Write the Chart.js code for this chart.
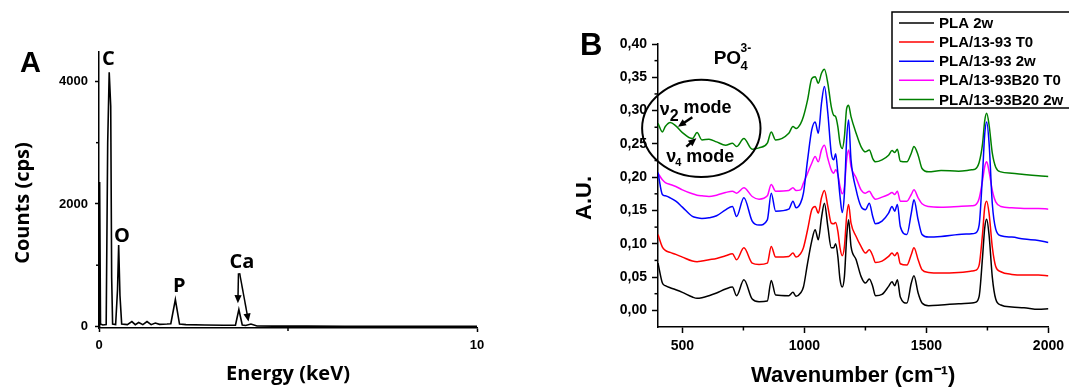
<!DOCTYPE html>
<html>
<head>
<meta charset="utf-8">
<script src="https://cdn.jsdelivr.net/npm/chart.js@4.4.0/dist/chart.umd.min.js"></script>
<style>
  body { margin: 0; background: #fff; }
  #wrap { position: relative; width: 1069px; height: 389px; overflow: hidden; }
  canvas { position: absolute; top: 0; }
  #edx { left: 0; }
  #ftir { left: 540px; }
</style>
</head>
<body>
<div id="wrap">
  <canvas id="edx" width="540" height="389"></canvas>
  <canvas id="ftir" width="529" height="389"></canvas>
</div>
<script>
// ---- panel A : EDX spectrum ----
const energy = [0, 0.017, 0.04, 0.1, 0.19, 0.23, 0.27, 0.31, 0.335, 0.36,
  0.44, 0.49, 0.52, 0.555, 0.6, 0.75, 0.87, 0.96, 1.05, 1.16,
  1.27, 1.38, 1.49, 1.6, 1.8, 1.9, 2.02, 2.13, 2.3, 2.8,
  3.3, 3.61, 3.70, 3.79, 3.88, 4.02, 4.18, 4.6, 5.5, 6.5,
  7.5, 8.5, 10];
const counts = [0, 2360, 40, 25, 30, 3000, 4150, 3600, 800, 40,
  30, 600, 1330, 500, 40, 30, 80, 30, 65, 30,
  80, 30, 55, 35, 40, 45, 440, 40, 30, 25,
  20, 20, 276, 25, 15, 40, 8, 5, 5, 4,
  3, 3, 3];
const edxXTicks = [0, 10];
const edxXMinor = [5];
const edxYTicks = [0, 2000, 4000];
const edxYMinor = [1000, 3000];

// ---- panel B : FTIR spectra ----
const wavenumber = [400, 418, 430, 450, 473, 500, 541, 560, 580, 609,
  640, 677, 705, 722, 752, 786, 814, 848, 864, 882,
  936, 953, 966,
  984, 996, 1013, 1030, 1044, 1057, 1070, 1082, 1096, 1110,
  1120, 1128, 1137, 1146, 1155, 1164, 1173, 1181, 1191, 1212,
  1232, 1250, 1266, 1280, 1291, 1318,
  1345, 1359, 1370, 1381, 1393, 1420, 1438, 1449, 1466, 1482,
  1509, 1560, 1632, 1686,
  1700, 1716, 1730, 1739, 1747, 1757, 1770, 1784, 1805, 1850,
  1900, 1959, 2000];
const pla2w = [0.071, 0.041, 0.037, 0.034, 0.031, 0.027, 0.020, 0.018, 0.019, 0.022,
  0.026, 0.032, 0.035, 0.022, 0.046, 0.017, 0.013, 0.014, 0.045, 0.023,
  0.022, 0.027, 0.021,
  0.026, 0.035, 0.071, 0.104, 0.121, 0.106, 0.139, 0.161, 0.126, 0.094,
  0.094, 0.100, 0.081, 0.046, 0.035, 0.051, 0.109, 0.136, 0.096, 0.076,
  0.051, 0.041, 0.047, 0.036, 0.022, 0.024,
  0.036, 0.043, 0.037, 0.046, 0.020, 0.011, 0.041, 0.052, 0.026, 0.011,
  0.007, 0.008, 0.010, 0.011,
  0.012, 0.021, 0.080, 0.124, 0.137, 0.112, 0.050, 0.017, 0.008, 0.005,
  0.004, 0.0015, 0.0025];
const pla1393T0 = [0.114, 0.095, 0.090, 0.087, 0.084, 0.080, 0.074, 0.073, 0.074, 0.076,
  0.078, 0.082, 0.085, 0.076, 0.094, 0.071, 0.069, 0.071, 0.096, 0.080,
  0.081, 0.086, 0.080,
  0.085, 0.094, 0.121, 0.151, 0.156, 0.146, 0.169, 0.180, 0.156, 0.131,
  0.130, 0.132, 0.119, 0.094, 0.082, 0.096, 0.141, 0.159, 0.131, 0.111,
  0.096, 0.086, 0.091, 0.082, 0.072, 0.074,
  0.081, 0.086, 0.082, 0.087, 0.070, 0.068, 0.084, 0.094, 0.076, 0.061,
  0.057, 0.056, 0.057, 0.059,
  0.060, 0.068, 0.115, 0.155, 0.164, 0.145, 0.095, 0.066, 0.058, 0.054,
  0.053, 0.053, 0.052];
const pla13932w = [0.207, 0.174, 0.172, 0.169, 0.164, 0.155, 0.141, 0.139, 0.138, 0.139,
  0.142, 0.151, 0.156, 0.141, 0.169, 0.134, 0.128, 0.136, 0.176, 0.149,
  0.152, 0.164, 0.154,
  0.161, 0.176, 0.226, 0.271, 0.283, 0.266, 0.311, 0.336, 0.296, 0.236,
  0.226, 0.235, 0.206, 0.171, 0.147, 0.176, 0.256, 0.286, 0.226, 0.181,
  0.156, 0.151, 0.161, 0.141, 0.130, 0.134,
  0.146, 0.156, 0.149, 0.159, 0.126, 0.114, 0.146, 0.166, 0.136, 0.114,
  0.110, 0.111, 0.114, 0.115,
  0.116, 0.128, 0.205, 0.265, 0.283, 0.250, 0.160, 0.122, 0.112, 0.110,
  0.107, 0.105, 0.102];
const pla1393B20T0 = [0.206, 0.196, 0.192, 0.189, 0.186, 0.181, 0.175, 0.173, 0.172, 0.171,
  0.173, 0.177, 0.179, 0.176, 0.184, 0.171, 0.167, 0.172, 0.189, 0.179,
  0.180, 0.184, 0.180,
  0.181, 0.191, 0.206, 0.221, 0.231, 0.223, 0.241, 0.248, 0.228, 0.211,
  0.206, 0.211, 0.204, 0.186, 0.175, 0.186, 0.226, 0.241, 0.216, 0.199,
  0.181, 0.176, 0.179, 0.171, 0.167, 0.170,
  0.174, 0.177, 0.174, 0.179, 0.164, 0.164, 0.174, 0.181, 0.169, 0.160,
  0.156, 0.155, 0.156, 0.157,
  0.158, 0.168, 0.195, 0.216, 0.223, 0.208, 0.180, 0.163, 0.156, 0.154,
  0.153, 0.153, 0.152];
const pla1393B202w = [0.281, 0.268, 0.276, 0.282, 0.277, 0.267, 0.258, 0.267, 0.256, 0.257,
  0.253, 0.248, 0.251, 0.246, 0.258, 0.242, 0.244, 0.251, 0.268, 0.256,
  0.266, 0.276, 0.273,
  0.280, 0.291, 0.316, 0.348, 0.351, 0.341, 0.356, 0.362, 0.341, 0.306,
  0.293, 0.291, 0.276, 0.251, 0.243, 0.261, 0.303, 0.308, 0.291, 0.266,
  0.246, 0.238, 0.241, 0.228, 0.223, 0.226,
  0.233, 0.240, 0.237, 0.242, 0.224, 0.223, 0.236, 0.246, 0.233, 0.213,
  0.208, 0.210, 0.209, 0.211,
  0.212, 0.222, 0.250, 0.285, 0.296, 0.278, 0.236, 0.215, 0.208, 0.206,
  0.204, 0.202, 0.201];
const seriesLabels = ['PLA 2w', 'PLA/13-93 T0', 'PLA/13-93 2w', 'PLA/13-93B20 T0', 'PLA/13-93B20 2w'];
const seriesValues = [pla2w, pla1393T0, pla13932w, pla1393B20T0, pla1393B202w];
const seriesColors = ['#000000', '#ff0000', '#0000ff', '#ff00ff', '#008000'];
const ftirXTicks = [500, 1000, 1500, 2000];
const ftirXMinor = [750, 1250, 1750];
const ftirYTicks = [0, 0.05, 0.10, 0.15, 0.20, 0.25, 0.30, 0.35, 0.40];
const ftirYMinor = [0.025, 0.075, 0.125, 0.175, 0.225, 0.275, 0.325, 0.375];

const SANS = '"Liberation Sans", Arial, sans-serif';
const OPEN = '"Open Sans", sans-serif';

function makeAxis(o) {
  return {
    type: 'linear',
    position: o.position,
    min: o.min,
    max: o.max,
    afterBuildTicks: s => { s.ticks = o.ticks.map(v => ({ value: v })); },
    afterFit: s => { if (o.position === 'left') s.width = o.size; else s.height = o.size; },
    border: { color: '#000', width: 1.5 },
    grid: { drawOnChartArea: false, tickLength: o.tickLength, tickColor: '#000', tickWidth: 1.5 },
    ticks: { color: '#000', font: o.font, padding: o.padding, maxRotation: 0, autoSkip: false, callback: o.format },
    title: o.title ? { display: true, text: o.title, color: '#000', font: o.titleFont, padding: o.titlePadding } : { display: false }
  };
}

function minorTicks(chart, xs, ys, len) {
  const { ctx, scales: { x, y }, chartArea } = chart;
  ctx.strokeStyle = '#000';
  ctx.lineWidth = 1.5;
  ys.forEach(v => {
    const py = y.getPixelForValue(v);
    ctx.beginPath(); ctx.moveTo(chartArea.left - len, py); ctx.lineTo(chartArea.left, py); ctx.stroke();
  });
  xs.forEach(v => {
    const px = x.getPixelForValue(v);
    ctx.beginPath(); ctx.moveTo(px, chartArea.bottom); ctx.lineTo(px, chartArea.bottom + len); ctx.stroke();
  });
}

function arrow(ctx, x1, y1, x2, y2, w, head) {
  const a = Math.atan2(y2 - y1, x2 - x1);
  const c = Math.cos(a), s = Math.sin(a);
  ctx.lineWidth = w;
  ctx.beginPath(); ctx.moveTo(x1, y1); ctx.lineTo(x2 - c * head * 0.8, y2 - s * head * 0.8); ctx.stroke();
  ctx.beginPath();
  ctx.moveTo(x2, y2);
  ctx.lineTo(x2 - head * c + head * 0.45 * s, y2 - head * s - head * 0.45 * c);
  ctx.lineTo(x2 - head * c - head * 0.45 * s, y2 - head * s + head * 0.45 * c);
  ctx.closePath(); ctx.fill();
}

function yTitle(ctx, text, cx, cy, font) {
  ctx.save();
  ctx.translate(cx, cy);
  ctx.rotate(-Math.PI / 2);
  ctx.font = font;
  ctx.textAlign = 'center';
  ctx.textBaseline = 'middle';
  ctx.fillText(text, 0, 0);
  ctx.restore();
}

// annotations of panel A, in data units
const edxLabels = [
  { t: 'C', e: 0.08, c: 4260 },
  { t: 'O', e: 0.40, c: 1379 },
  { t: 'P', e: 1.96, c: 565 },
  { t: 'Ca', e: 3.45, c: 955 }
];
const edxArrows = [
  { e1: 3.69, c1: 869, e2: 3.674, c2: 381 },
  { e1: 3.72, c1: 869, e2: 3.955, c2: 81 }
];

const edxDecor = {
  id: 'edxDecor',
  afterDraw(chart) {
    const { ctx, scales: { x, y } } = chart;
    ctx.save();
    minorTicks(chart, edxXMinor, edxYMinor, 3);
    ctx.fillStyle = '#000';
    ctx.textAlign = 'left';
    ctx.textBaseline = 'alphabetic';
    ctx.font = 'bold 29px ' + SANS;
    ctx.fillText('A', 20, 72);
    ctx.font = 'bold 20px ' + OPEN;
    edxLabels.forEach(l => ctx.fillText(l.t, x.getPixelForValue(l.e), y.getPixelForValue(l.c)));
    ctx.strokeStyle = '#000';
    edxArrows.forEach(a => arrow(ctx, x.getPixelForValue(a.e1), y.getPixelForValue(a.c1),
      x.getPixelForValue(a.e2), y.getPixelForValue(a.c2), 1.5, 8));
    yTitle(ctx, 'Counts (cps)', 23, 203, 'bold 20px ' + OPEN);
    ctx.restore();
  }
};

new Chart('edx', {
  type: 'line',
  data: {
    datasets: [{
      data: energy.map((e, i) => ({ x: e, y: counts[i] })),
      borderColor: '#000',
      borderWidth: 1.6,
      pointRadius: 0,
      tension: 0
    }]
  },
  options: {
    responsive: false,
    animation: false,
    devicePixelRatio: 1,
    layout: { padding: { left: 0, right: 63, top: 52, bottom: 0 } },
    plugins: { legend: { display: false }, tooltip: { enabled: false } },
    scales: {
      x: makeAxis({
        position: 'bottom', min: 0, max: 10, ticks: edxXTicks, size: 61, tickLength: 4, padding: 6,
        font: { family: SANS, size: 13, weight: 'bold' }, format: v => String(v),
        title: 'Energy (keV)', titleFont: { family: OPEN, size: 20, weight: 'bold', lineHeight: 1.2 },
        titlePadding: { top: 0, bottom: 3 }
      }),
      y: makeAxis({
        position: 'left', min: -25, max: 4480, ticks: edxYTicks, size: 99, tickLength: 4, padding: 7,
        font: { family: SANS, size: 13, weight: 'bold' }, format: v => String(v)
      })
    }
  },
  plugins: [edxDecor]
});

// annotations of panel B, in data units
const ftirTexts = [
  { t: 'PO', w: 628, v: 0.3696, size: 19 },
  { t: '4', w: 738, v: 0.3606, size: 13 },
  { t: '3-', w: 738, v: 0.3876, size: 12 },
  { t: '\u03bd', w: 407, v: 0.2933, size: 18 },
  { t: '2', w: 448, v: 0.2843, size: 16 },
  { t: 'mode', w: 505, v: 0.2967, size: 18 },
  { t: '\u03bd', w: 434, v: 0.2234, size: 18 },
  { t: '4', w: 471, v: 0.2170, size: 11 },
  { t: 'mode', w: 516, v: 0.2234, size: 18 }
];
const ftirArrows = [
  { w1: 540.7, v1: 0.2899, w2: 481.8, v2: 0.2758 },
  { w1: 516.2, v1: 0.2459, w2: 557.1, v2: 0.2584 }
];
const ftirCircle = { w: 577.5, v: 0.2734, rw: 242.6, rv: 0.073 };

const ftirDecor = {
  id: 'ftirDecor',
  afterDraw(chart) {
    const { ctx, scales: { x, y } } = chart;
    ctx.save();
    minorTicks(chart, ftirXMinor, ftirYMinor, 3.5);
    ctx.fillStyle = '#000';
    ctx.strokeStyle = '#000';
    ctx.textAlign = 'left';
    ctx.textBaseline = 'alphabetic';
    ctx.font = 'bold 31px ' + SANS;
    ctx.fillText('B', 40, 55);
    ftirTexts.forEach(t => {
      ctx.font = 'bold ' + t.size + 'px ' + SANS;
      ctx.fillText(t.t, x.getPixelForValue(t.w), y.getPixelForValue(t.v));
    });
    // circle round the phosphate bands
    const cx = x.getPixelForValue(ftirCircle.w), cy = y.getPixelForValue(ftirCircle.v);
    const rx = x.getPixelForValue(ftirCircle.w + ftirCircle.rw) - cx;
    const ry = cy - y.getPixelForValue(ftirCircle.v + ftirCircle.rv);
    ctx.lineWidth = 2;
    ctx.beginPath(); ctx.ellipse(cx, cy, rx, ry, 0, 0, Math.PI * 2); ctx.stroke();
    ftirArrows.forEach(a => arrow(ctx, x.getPixelForValue(a.w1), y.getPixelForValue(a.v1),
      x.getPixelForValue(a.w2), y.getPixelForValue(a.v2), 2.5, 8));
    yTitle(ctx, 'A.U.', 45, 198, 'bold 22px ' + SANS);
    // legend box, running off the right edge as in the original
    ctx.fillStyle = '#fff';
    ctx.fillRect(352, 12, 400, 96);
    ctx.lineWidth = 1.5;
    ctx.beginPath();
    ctx.moveTo(chart.width + 10, 12); ctx.lineTo(352, 12); ctx.lineTo(352, 108); ctx.lineTo(chart.width + 10, 108);
    ctx.stroke();
    ctx.font = 'bold 15px ' + SANS;
    ctx.textBaseline = 'middle';
    chart.data.datasets.forEach((ds, i) => {
      const ly = 23 + i * 19.1;
      ctx.strokeStyle = ds.borderColor;
      ctx.lineWidth = 1.5;
      ctx.beginPath(); ctx.moveTo(359, ly); ctx.lineTo(394, ly); ctx.stroke();
      ctx.fillStyle = '#000';
      ctx.fillText(ds.label, 399, ly + 1);
    });
    ctx.restore();
  }
};

new Chart('ftir', {
  type: 'line',
  data: {
    datasets: seriesValues.map((vals, i) => ({
      label: seriesLabels[i],
      data: wavenumber.map((w, j) => ({ x: w, y: vals[j] })),
      borderColor: seriesColors[i],
      borderWidth: 1.5,
      pointRadius: 0,
      cubicInterpolationMode: 'monotone'
    }))
  },
  options: {
    responsive: false,
    animation: false,
    devicePixelRatio: 1,
    layout: { padding: { left: 0, right: 20, top: 44, bottom: 0 } },
    plugins: { legend: { display: false }, tooltip: { enabled: false } },
    scales: {
      x: makeAxis({
        position: 'bottom', min: 400, max: 2000, ticks: ftirXTicks, size: 62, tickLength: 6, padding: 5,
        font: { family: SANS, size: 14, weight: 'bold' }, format: v => String(v),
        title: 'Wavenumber (cm\u207b\u00b9)', titleFont: { family: SANS, size: 22, weight: 'bold', lineHeight: 1.2 },
        titlePadding: { top: 0, bottom: 0 }
      }),
      y: makeAxis({
        position: 'left', min: -0.025, max: 0.40, ticks: ftirYTicks, size: 118, tickLength: 6, padding: 5,
        font: { family: SANS, size: 14, weight: 'bold' }, format: v => v.toFixed(2).replace('.', ',')
      })
    }
  },
  plugins: [ftirDecor]
});
</script>
</body>
</html>
